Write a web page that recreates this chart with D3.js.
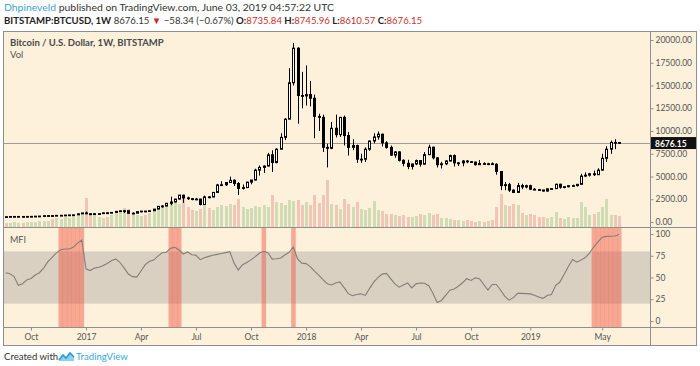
<!DOCTYPE html>
<html><head><meta charset="utf-8">
<script src="https://cdn.jsdelivr.net/npm/d3@7"></script>
<style>
html,body{margin:0;padding:0;background:#fff;}
svg{display:block;}
text{font-family:Lato,"Open Sans",sans-serif;}
</style></head><body>
<svg id="c" width="700" height="366"></svg>
<script>
// ---- data (weekly BTC/USD, Bitstamp) ----
const firstWeek = "2016-08-22";
const open = [583,573,607,609,609,601,612,617,640,654,
698,703,702,730,735,765,777,790,900,998,
905,820,920,920,1010,1000,1050,1170,1230,1240,
960,970,1140,1200,1180,1240,1420,1720,1760,2050,
2200,2520,2950,2650,2560,2500,2520,1920,2760,2745,
3250,4070,4090,4340,4580,4230,3690,3780,4380,4610,
5700,6000,6150,7380,6540,8000,9300,11300,15300,19100,
13900,13860,14000,13600,11600,11500,8200,8100,10300,9600,
11500,9500,8200,8400,6900,6900,8000,8900,9350,9650,
8700,8200,7350,7700,6780,6450,6100,6380,6750,6350,
7400,8220,7050,6300,6400,6700,7300,6500,6500,6700,
6630,6580,6300,6420,6400,6400,6350,5550,4000,4100,
3500,3250,4000,3850,3990,3600,3560,3520,3400,3650,
3670,4150,3820,3880,3990,4000,4140,5050,5150,5300,
5200,5700,7000,8000,8750,8735.84];
const high = [593,612,630,612,610,617,620,642,655,720,
745,725,752,748,770,780,795,935,1000,1150,
915,930,930,1030,1070,1055,1200,1290,1330,1255,
1060,1150,1210,1210,1250,1430,1740,1850,2100,2790,
2550,2980,2990,2780,2640,2650,2550,2900,2830,3300,
4190,4480,4370,4980,4700,4380,4120,4410,4630,5850,
6200,6220,7600,7880,8100,9750,11400,16900,19670,19200,
16500,17200,15500,14000,11900,11800,8600,11000,11800,11500,
11700,9900,9100,8500,7500,8200,8950,9750,9950,9700,
8880,8400,7780,7770,6880,6840,6400,6860,6800,7680,
8500,8280,7150,6620,6800,7400,7420,6600,6800,6800,
6700,6650,6800,6560,6500,6550,6450,5570,4400,4300,
3600,4300,4200,4100,4100,3750,3640,3530,3680,3700,
4200,4200,3930,4000,4100,4150,5300,5450,5400,5650,
5900,7500,8330,8950,9100,8745.96];
const low = [565,568,603,598,590,596,606,613,628,651,
680,695,698,720,725,755,765,788,880,860,
750,815,880,905,940,990,1040,1150,980,920,
890,950,1060,1130,1170,1230,1410,1570,1710,1850,
2140,2480,2100,2430,2380,2450,1830,1900,2600,2710,
3200,3950,3950,4300,3950,2970,3560,3750,4140,4570,
5100,5400,6100,5500,6440,8000,9000,11300,15000,10800,
12500,12800,12700,9200,10000,7700,6000,8000,9300,9350,
8400,7300,7900,6500,6500,6600,7820,8650,9050,8300,
8050,7280,7060,6650,6120,5800,5770,6250,6070,6340,
7350,6880,5990,5880,6250,6680,6100,6150,6120,6460,
6500,6200,6270,6330,6250,6330,5200,3500,3500,3300,
3220,3240,3600,3700,3550,3500,3450,3350,3350,3580,
3650,3660,3700,3810,3900,3900,4100,4930,5000,5050,
5180,5650,6600,7500,8000,8610.57];
const close = [573,607,609,609,601,612,617,640,654,698,
703,702,730,735,765,777,790,900,998,905,
820,920,920,1010,1000,1050,1170,1230,1240,960,
970,1140,1200,1180,1240,1420,1720,1760,2050,2200,
2520,2950,2650,2560,2500,2520,1920,2760,2745,3250,
4070,4090,4340,4580,4230,3690,3780,4380,4610,5700,
6000,6150,7380,6540,8000,9300,11300,15300,19100,13900,
13860,14000,13600,11600,11500,8200,8100,10300,9600,11500,
9500,8200,8400,6900,6900,8000,8900,9350,9650,8700,
8200,7350,7700,6780,6450,6100,6380,6750,6350,7400,
8220,7050,6300,6400,6700,7300,6500,6500,6700,6630,
6580,6300,6420,6400,6400,6350,5550,4000,4100,3500,
3250,4000,3850,3990,3600,3560,3520,3400,3650,3670,
4150,3820,3880,3990,4000,4140,5050,5150,5300,5200,
5700,7000,8000,8750,8735.84,8676.15];
// weekly volume, thousand BTC
const volume = [20,20,25,20,20,25,25,25,30,30,
30,40,45,40,50,45,55,60,70,145,
70,60,50,45,50,60,70,75,95,90,
65,60,55,60,70,80,90,100,110,120,
130,115,160,100,85,80,90,110,95,85,
100,110,105,115,110,140,100,90,95,105,
100,110,100,160,125,120,110,135,130,135,
110,125,110,160,120,160,235,115,110,90,
140,115,100,125,90,85,95,130,85,80,
65,65,60,55,60,50,50,55,65,60,
70,60,65,45,45,40,35,35,30,35,
30,25,30,25,30,35,100,165,110,105,
115,110,70,60,65,60,50,50,45,50,
75,45,40,50,45,45,125,100,60,65,
75,100,140,60,60,55];
const mfi = [55.4,54.4,51,41,42.9,47.2,48.9,52.9,55.5,60.8,
68.2,73.1,78.3,81.9,82.8,82.8,84.7,89.5,93,60,
58,60.8,61.7,63.5,66,69.3,71.4,67.5,61,54,
51,50.5,57.5,64.8,68.6,70,74.6,78.4,79,83.5,
84.8,81.6,77,79.4,76.2,75.5,70.5,72.6,74.3,75.5,
76.6,77.6,78.6,79.6,66.5,58.7,64.7,67.2,70.3,74,
78.1,80.2,78.4,71.2,71.6,72.5,75.8,79,85,71.4,
66.5,66,62.5,57.3,52.7,47.5,42.9,41.4,43.6,45,
38.4,31.4,29,30.5,31.2,29.4,37.2,44.6,49.8,53.9,
54.7,48.7,42.7,38.9,41.4,43.7,38,42.7,43.7,43.4,
40.5,31.8,21.2,23.6,29.5,35.5,36.7,39.9,44,48.7,
46.6,49.6,48.7,42,35.6,42,42,35.4,28.4,24,
26.8,31.8,31.8,31.5,31.2,29.5,27.5,26,29.3,30.5,
40.7,44.8,53.5,62.7,70.6,67.6,70,72.9,78,85,
91,96.2,97.3,97.5,97.7,99.5];
const priceTicks = [0,2500,5000,7500,10000,12500,15000,17500,20000];
const mfiTicks = [0,25,50,75,100];
const mfiBand = [20,80];
const xTickDates = ["2016-10-03","2017-01-02","2017-04-03","2017-07-03","2017-10-02","2018-01-01","2018-04-02","2018-07-02","2018-10-01","2019-01-07","2019-05-06"];
const xTickLabels = ["Oct","2017","Apr","Jul","Oct","2018","Apr","Jul","Oct","2019","May"];
const lastPrice = 8676.15;

// ---- layout ----
const L=3, R=697, AX=650, T=31, MB=227, FB=327, B=346;
const svg = d3.select("#c");
const parse = d3.utcParse("%Y-%m-%d");
const w0 = parse(firstWeek);
const WEEK = 7*864e5;
const dates = open.map((_,i)=>d3.utcMonday.offset(w0,i));
const x = d3.scaleUtc().domain([new Date(+w0-0.615*WEEK), new Date(+w0+152.3*WEEK)]).range([L,AX]);
const y = d3.scaleLinear().domain([0,20000]).range([222,40]);
const yv = d3.scaleLinear().domain([0,500]).range([MB,MB-100]);
const ym = d3.scaleLinear().domain([0,100]).range([321,234]);

const cream="#fdf1db", frame="#8f8f8f";
svg.append("rect").attr("x",L).attr("y",T).attr("width",R-L).attr("height",B-T).attr("fill",cream);

const defs=svg.append("defs");
defs.append("clipPath").attr("id","cm").append("rect").attr("x",L).attr("y",T).attr("width",AX-L).attr("height",MB-T);
defs.append("clipPath").attr("id","cf").append("rect").attr("x",L).attr("y",MB).attr("width",AX-L).attr("height",FB-MB);

// ---- volume ----
const gm = svg.append("g").attr("clip-path","url(#cm)");
gm.selectAll("rect.v").data(dates).join("rect").attr("class","v")
  .attr("x",(d)=>Math.round(x(d))-1).attr("width",3)
  .attr("y",(d,i)=>yv(volume[i])).attr("height",(d,i)=>MB-yv(volume[i]))
  .attr("fill",(d,i)=>close[i]>=open[i]?"#d0dcb4":"#f2c6b6");

// last price line
gm.append("line").attr("x1",L).attr("x2",AX).attr("y1",Math.round(y(lastPrice))+0.5).attr("y2",Math.round(y(lastPrice))+0.5)
  .attr("stroke","#a49c92").attr("stroke-width",1);

// ---- candles ----
const cg = gm.selectAll("g.c").data(dates).join("g").attr("class","c");
cg.append("line")
  .attr("x1",d=>Math.round(x(d))+0.5).attr("x2",d=>Math.round(x(d))+0.5)
  .attr("y1",(d,i)=>y(high[i])).attr("y2",(d,i)=>y(low[i]))
  .attr("stroke","#000").attr("stroke-width",1);
cg.append("rect")
  .attr("x",d=>Math.round(x(d))-0.5).attr("width",2)
  .attr("y",(d,i)=>Math.min(y(open[i]),y(close[i])))
  .attr("height",(d,i)=>Math.max(0.8,Math.abs(y(open[i])-y(close[i]))))
  .attr("fill",(d,i)=>close[i]>=open[i]?"#ffffff":"#000")
  .attr("stroke","#000").attr("stroke-width",1);

// ---- MFI pane ----
const gf = svg.append("g").attr("clip-path","url(#cf)");
gf.append("rect").attr("x",L).attr("width",AX-L).attr("y",ym(mfiBand[1])).attr("height",ym(mfiBand[0])-ym(mfiBand[1])).attr("fill","#d9d0c1");
const step = x(dates[1])-x(dates[0]);
gf.selectAll("rect.h").data(dates.filter((d,i)=>mfi[i]>mfiBand[1])).join("rect").attr("class","h")
  .attr("x",d=>x(d)-step/2).attr("width",step+0.3).attr("y",MB).attr("height",FB-MB)
  .attr("fill","rgba(240,80,60,0.45)");
gf.append("path").datum(dates).attr("fill","none").attr("stroke","#857e77").attr("stroke-width",1.1)
  .attr("d",d3.line().x(d=>x(d)).y((d,i)=>ym(mfi[i])));

// ---- frame lines ----
const fl=(x1,y1,x2,y2)=>svg.append("line").attr("x1",x1).attr("y1",y1).attr("x2",x2).attr("y2",y2).attr("stroke",frame).attr("stroke-width",1);
svg.append("rect").attr("x",L+0.5).attr("y",T+0.5).attr("width",R-L-1).attr("height",B-T-1).attr("fill","none").attr("stroke",frame);
fl(L,MB+0.5,R,MB+0.5); fl(L,FB+0.5,R,FB+0.5); fl(AX+0.5,T,AX+0.5,B);

// ---- axes ----
const axStyle = g=>{g.select(".domain").remove();g.selectAll("line").attr("stroke",frame);g.selectAll("text").attr("fill","#555").style("font-size","8.5px").style("font-family","Lato,'Open Sans',sans-serif");};
svg.append("g").attr("transform",`translate(${AX+0.5},0)`)
  .call(d3.axisRight(y).tickValues(priceTicks).tickFormat(d3.format(".2f")).tickSize(3).tickPadding(2)).call(axStyle);
svg.append("g").attr("transform",`translate(${AX+0.5},0)`)
  .call(d3.axisRight(ym).tickValues(mfiTicks).tickFormat(d3.format("d")).tickSize(3).tickPadding(2)).call(axStyle);
svg.append("g").attr("transform",`translate(0,${FB+0.5})`)
  .call(d3.axisBottom(x).tickValues(xTickDates.map(parse)).tickFormat((d,i)=>xTickLabels[i]).tickSize(3).tickPadding(3)).call(axStyle);

// last price tag
const py=y(lastPrice);
svg.append("rect").attr("x",AX+1).attr("y",py-6).attr("width",45).attr("height",12).attr("fill","#111");
svg.append("text").attr("x",AX+5).attr("y",py+3.5).attr("fill","#fff").style("font-size","8.5px").style("font-weight","700").text(d3.format(".2f")(lastPrice));

// ---- pane titles ----
svg.append("text").attr("x",10).attr("y",46).attr("fill","#4a4a4a").style("font-size","9.5px").style("font-weight","700").text("Bitcoin / U.S. Dollar, 1W, BITSTAMP");
svg.append("text").attr("x",10).attr("y",58).attr("fill","#555").style("font-size","9.5px").text("Vol");
svg.append("text").attr("x",10).attr("y",243).attr("fill","#555").style("font-size","9px").text("MFI");

// ---- header ----
const h1=svg.append("text").attr("x",4).attr("y",11).style("font-size","10.4px");
h1.append("tspan").attr("fill","#3d9fd3").text("Dhpineveld");
h1.append("tspan").attr("fill","#333").text(" published on TradingView.com, June 03, 2019 04:57:22 UTC");
const h2=svg.append("text").attr("x",4).attr("y",24).style("font-size","9.6px").attr("fill","#222");
const red="#c9302c";
[["BITSTAMP:BTCUSD, 1W","#222",700],[" 8676.15 ","#333",400],["▼",red,400],[" −58.34 (−0.67%) ","#333",400],
 ["O:","#222",700],["8735.84",red,400],[" H:","#222",700],["8745.96",red,400],[" L:","#222",700],["8610.57",red,400],[" C:","#222",700],["8676.15",red,400]]
 .forEach(([t,c,wt])=>h2.append("tspan").attr("fill",c).style("font-weight",wt).text(t));

// ---- footer ----
svg.append("text").attr("x",4).attr("y",360).attr("fill","#333").style("font-size","9.6px").text("Created with");
const lg=svg.append("g").attr("transform","translate(59,351)");
lg.append("path").attr("d","M0,9 L4,4 L7,7 L11,2 L15,6 L15,10 L0,10 Z").attr("fill","#8fd0ee");
lg.append("path").attr("d","M0,9 L4,4 L7,7 L11,2 L15,6").attr("fill","none").attr("stroke","#2a9ad6").attr("stroke-width",1.6);
svg.append("text").attr("x",76).attr("y",360).attr("fill","#39a9dc").style("font-size","9.6px").text("TradingView");
</script></body></html>
